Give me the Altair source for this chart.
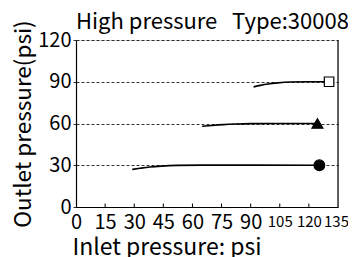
import altair as alt
import pandas as pd

FONT = "Noto Sans CJK JP"

x_ticks = [0, 15, 30, 45, 60, 75, 90, 105, 120, 135]
y_ticks = [0, 30, 60, 90, 120]

s30_in = [29, 33, 38, 44, 52, 65, 90, 125.4]
s30_out = [27.0, 27.8, 28.7, 29.4, 29.9, 30.1, 30.1, 30.0]
s60_in = [65, 70, 76, 82, 90, 105, 124.4]
s60_out = [58.0, 58.6, 59.2, 59.6, 59.9, 60.0, 60.0]
s90_in = [91.5, 95, 99, 104, 110, 120, 130.4]
s90_out = [86.3, 87.4, 88.4, 89.2, 89.8, 90.0, 90.0]

series = [("30", s30_in, s30_out, "circle", "black", 115),
          ("60", s60_in, s60_out, "triangle-up", "black", 120),
          ("90", s90_in, s90_out, "square", "white", 90)]

rows = []
for name, xs, ys, _, _, _ in series:
    for i, (a, b) in enumerate(zip(xs, ys)):
        rows.append({"series": name, "inlet": a, "outlet": b, "order": i})
df = pd.DataFrame(rows)

xs = alt.Scale(domain=[x_ticks[0], x_ticks[-1]], nice=False)
ys = alt.Scale(domain=[y_ticks[0], y_ticks[-1]], nice=False)

x_axis = alt.Axis(
    values=x_ticks, title="Inlet pressure: psi", grid=False, ticks=False,
    domainColor="black", domainWidth=1.2,
    labelFontSize=alt.expr("datum.value >= 100 ? 15 : 20"),
    labelColor="black", labelPadding=alt.expr("datum.value >= 100 ? 7 : 5"),
    labelOffset=alt.expr("datum.value >= 135 ? -2 : 0"),
    labelOverlap=False, labelFont=FONT,
    labelFlush=False, labelBound=False,
    titleFontSize=23, titleFontWeight="normal", titleColor="black", titleFont=FONT,
    titleAnchor="start", titleAlign="left", titleBaseline="alphabetic",
    titleX=-4, titleY=47, titlePadding=0)
y_axis = alt.Axis(
    values=y_ticks, title="Outlet pressure(psi)", grid=True,
    gridColor="black", gridDash=[3, 2], gridWidth=0.8,
    tickColor="black", tickSize=4, tickDash=[3, 2], tickWidth=0.8,
    domainColor="black", domainWidth=1.2,
    labelFontSize=20, labelColor="black", labelPadding=1, labelFont=FONT,
    labelFlush=False, labelOverlap=False,
    titleFontSize=22.5, titleFontWeight="normal", titleColor="black", titleFont=FONT,
    titlePadding=2)


def X():
    return alt.X("inlet:Q", scale=xs, axis=x_axis)


def Y():
    return alt.Y("outlet:Q", scale=ys, axis=y_axis)


lines = alt.Chart(df).mark_line(color="black", strokeWidth=1.6, interpolate="monotone").encode(
    x=X(), y=Y(), detail="series:N", order="order:Q")

markers = []
for name, xs_, ys_, shape, fill, size in series:
    pt = pd.DataFrame({"inlet": [xs_[-1]], "outlet": [ys_[-1]]})
    markers.append(alt.Chart(pt).mark_point(shape=shape, filled=True, fill=fill, stroke="black",
                                            strokeWidth=1.2, size=size, opacity=1).encode(
        x=X(), y=Y()))

tick_df = pd.DataFrame({"inlet": x_ticks[1:-1]})
inner_ticks = alt.Chart(tick_df).mark_rule(color="black", strokeWidth=1).encode(
    x=X(), y=alt.datum(0, scale=ys), y2=alt.datum(2.5))
right_border = alt.Chart(pd.DataFrame({"inlet": [x_ticks[-1]]})).mark_rule(
    color="black", strokeWidth=1.2).encode(
    x=X(), y=alt.datum(y_ticks[0], scale=ys), y2=alt.datum(y_ticks[-1]))

chart = alt.layer(lines, inner_ticks, right_border, *markers).properties(
    width=262, height=167,
    title=alt.TitleParams("High pressure\u00a0\u00a0\u00a0Type:30008", anchor="start", frame="group",
                          fontSize=22, fontWeight="normal", font=FONT, color="black",
                          offset=2, dx=0, dy=16),
    autosize=alt.AutoSizeParams(type="none"),
    padding={"left": 68, "top": 32, "right": 10, "bottom": 50},
).configure_view(stroke=None).configure_axisX(labelOverlap=False).configure(background="white")

chart.save("out.html", embed_options={"renderer": "svg", "actions": False})
